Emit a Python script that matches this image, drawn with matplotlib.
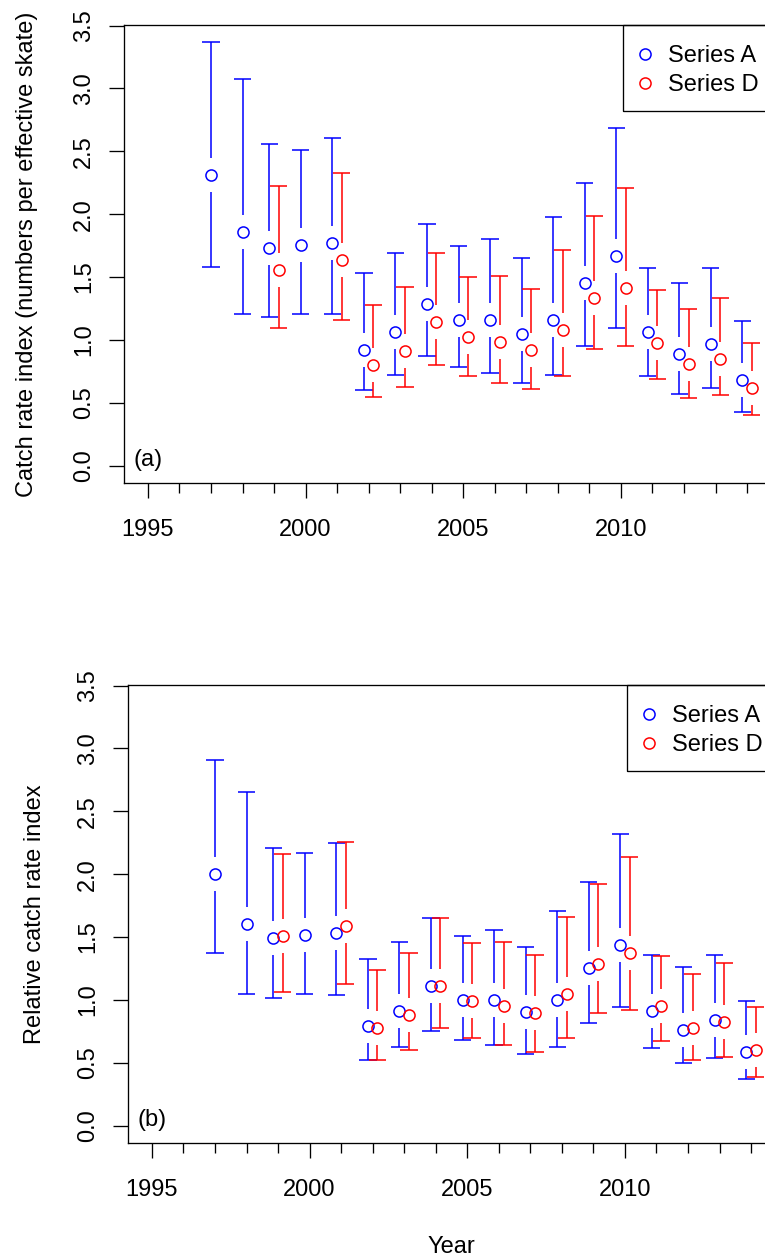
import numpy as np
import matplotlib
matplotlib.use("Agg")
import matplotlib.pyplot as plt
from matplotlib.lines import Line2D
from matplotlib.patches import Rectangle
from matplotlib.transforms import blended_transform_factory

years = np.arange(1997, 2015)
nan = np.nan

# Panel (a): catch rate index (numbers per effective skate)
a_est_A = [2.31, 1.86, 1.73, 1.755, 1.775, 0.92, 1.065, 1.285, 1.16, 1.16,
           1.05, 1.16, 1.455, 1.67, 1.06, 0.885, 0.97, 0.685]
a_low_A = [1.58, 1.21, 1.18, 1.21, 1.205, 0.605, 0.72, 0.875, 0.785, 0.74,
           0.655, 0.72, 0.95, 1.095, 0.715, 0.57, 0.615, 0.425]
a_up_A = [3.37, 3.075, 2.56, 2.51, 2.605, 1.535, 1.69, 1.92, 1.745, 1.80,
          1.65, 1.98, 2.245, 2.685, 1.575, 1.455, 1.575, 1.15]
a_est_D = [nan, nan, 1.555, nan, 1.64, 0.80, 0.91, 1.145, 1.025, 0.985,
           0.92, 1.08, 1.33, 1.415, 0.98, 0.81, 0.845, 0.62]
a_low_D = [nan, nan, 1.095, nan, 1.16, 0.545, 0.625, 0.80, 0.715, 0.66,
           0.61, 0.715, 0.93, 0.95, 0.69, 0.535, 0.56, 0.405]
a_up_D = [nan, nan, 2.225, nan, 2.325, 1.275, 1.42, 1.695, 1.50, 1.51,
          1.405, 1.715, 1.985, 2.205, 1.395, 1.245, 1.335, 0.98]

# Panel (b): relative catch rate index
b_est_A = [2.00, 1.605, 1.49, 1.515, 1.53, 0.795, 0.915, 1.11, 1.00, 1.00,
           0.905, 1.00, 1.255, 1.44, 0.915, 0.765, 0.84, 0.59]
b_low_A = [1.37, 1.045, 1.015, 1.045, 1.04, 0.525, 0.625, 0.755, 0.68, 0.64,
           0.57, 0.625, 0.82, 0.945, 0.62, 0.495, 0.535, 0.375]
b_up_A = [2.91, 2.655, 2.205, 2.165, 2.245, 1.325, 1.46, 1.655, 1.51, 1.555,
          1.425, 1.71, 1.94, 2.32, 1.36, 1.26, 1.36, 0.995]
b_est_D = [nan, nan, 1.505, nan, 1.59, 0.775, 0.88, 1.115, 0.995, 0.955,
           0.895, 1.05, 1.29, 1.37, 0.95, 0.78, 0.825, 0.605]
b_low_D = [nan, nan, 1.06, nan, 1.13, 0.525, 0.605, 0.775, 0.70, 0.64,
           0.59, 0.695, 0.90, 0.92, 0.675, 0.52, 0.545, 0.39]
b_up_D = [nan, nan, 2.16, nan, 2.255, 1.235, 1.375, 1.65, 1.45, 1.465,
          1.36, 1.66, 1.925, 2.135, 1.35, 1.205, 1.295, 0.945]

series_names = ["Series A", "Series D"]
series_colors = ["#0000FF", "#FF0000"]
x_major = [1995, 2000, 2005, 2010]
x_minor = np.arange(1995, 2015)
y_ticks = np.arange(0, 3.51, 0.5)
XLIM = (1994.24, 2014.76)
YLIM = (-0.1348, 3.5048)

W, H, DPI = 765, 1256, 100
FS = 17
LW = 0.95
MLW = 1.1
plt.rcParams['font.family'] = ['Liberation Sans', 'DejaVu Sans']
plt.rcParams['font.size'] = FS

fig = plt.figure(figsize=(W / DPI, H / DPI), dpi=DPI)
fig.patch.set_facecolor('white')

AX_W, AX_H = 647.0, 457.7


def fx(px):
    return px / W


def fy(py):
    return 1 - py / H


def make_axes(left_px, top_px):
    ax = fig.add_axes([fx(left_px), fy(top_px + AX_H), AX_W / W, AX_H / H])
    ax.set_xlim(*XLIM)
    ax.set_ylim(*YLIM)
    ax.set_xticks(x_major)
    ax.set_xticks(x_minor, minor=True)
    ax.set_yticks(y_ticks)
    ax.set_yticklabels([f"{v:.1f}" for v in y_ticks])
    ax.tick_params(axis='x', which='major', direction='out', length=10.8,
                   width=LW, pad=15, labelsize=FS)
    ax.tick_params(axis='x', which='minor', direction='out', length=7.0,
                   width=LW)
    ax.tick_params(axis='y', direction='out', length=10.8, width=LW,
                   pad=10.2, labelsize=FS, labelrotation=90)
    for lab in ax.get_yticklabels():
        lab.set_va('center')
    for sp in ax.spines.values():
        sp.set_linewidth(LW)
        sp.set_color('black')
    return ax


def draw_ci(ax, x, est, lo, up, color):
    x = np.asarray(x, float)
    est = np.asarray(est, float)
    lo = np.asarray(lo, float)
    up = np.asarray(up, float)
    ok = ~np.isnan(est)
    x, est, lo, up = x[ok], est[ok], lo[ok], up[ok]
    y_per_px = (YLIM[1] - YLIM[0]) / AX_H
    x_per_px = (XLIM[1] - XLIM[0]) / AX_W
    gap = 17 * y_per_px
    cap = 8.6 * x_per_px
    kw = dict(colors=color, linewidth=MLW, capstyle='butt')
    ax.vlines(x, est + gap, up, **kw)
    ax.vlines(x, lo, est - gap, **kw)
    ax.hlines(up, x - cap, x + cap, **kw)
    ax.hlines(lo, x - cap, x + cap, **kw)
    ax.plot(x, est, linestyle='none', marker='o', ms=8.0, mfc='none',
            mec=color, mew=MLW)


def draw_legend(left_px, top_px):
    bx = left_px + 499.2
    fig.add_artist(Rectangle((fx(bx), fy(top_px + 86)), (AX_W - 499.2) / W,
                             86 / H, transform=fig.transFigure, fill=False,
                             edgecolor='black', linewidth=LW))
    for i, (name, col) in enumerate(zip(series_names, series_colors)):
        yy = top_px + 28.7 + 29 * i
        fig.add_artist(Line2D([fx(bx + 22)], [fy(yy)], transform=fig.transFigure,
                              linestyle='none', marker='o', ms=8.0, mfc='none',
                              mec=col, mew=MLW))
        fig.text(fx(bx + 44.3), fy(yy + 8.4), name, ha='left', va='baseline',
                 fontsize=FS)


panels = [
    dict(left=124, top=25, tag="(a)", ylab_x=33.5,
         ylabel="Catch rate index (numbers per effective skate)",
         A=(a_est_A, a_low_A, a_up_A), D=(a_est_D, a_low_D, a_up_D)),
    dict(left=128, top=685, tag="(b)", ylab_x=41.5,
         ylabel="Relative catch rate index",
         A=(b_est_A, b_low_A, b_up_A), D=(b_est_D, b_low_D, b_up_D)),
]

first_D_year = years[~np.isnan(np.asarray(a_est_D))][0]
shift = np.where(years >= first_D_year, 0.15, 0.0)

for p in panels:
    ax = make_axes(p['left'], p['top'])
    draw_ci(ax, years - shift, *p['A'], series_colors[0])
    draw_ci(ax, years + 0.15, *p['D'], series_colors[1])
    tr = blended_transform_factory(ax.transAxes, ax.transData)
    ax.text(9.5 / AX_W, 0.045, p['tag'], transform=tr, ha='left', va='center',
            fontsize=FS)
    fig.text(fx(p['ylab_x']), fy(p['top'] + AX_H / 2), p['ylabel'],
             rotation=90, rotation_mode='anchor', ha='center', va='baseline',
             fontsize=FS)
    draw_legend(p['left'], p['top'])

fig.text(fx(451), fy(1253), "Year", ha='center', va='baseline', fontsize=FS)

fig.savefig("out.png", dpi=DPI)
